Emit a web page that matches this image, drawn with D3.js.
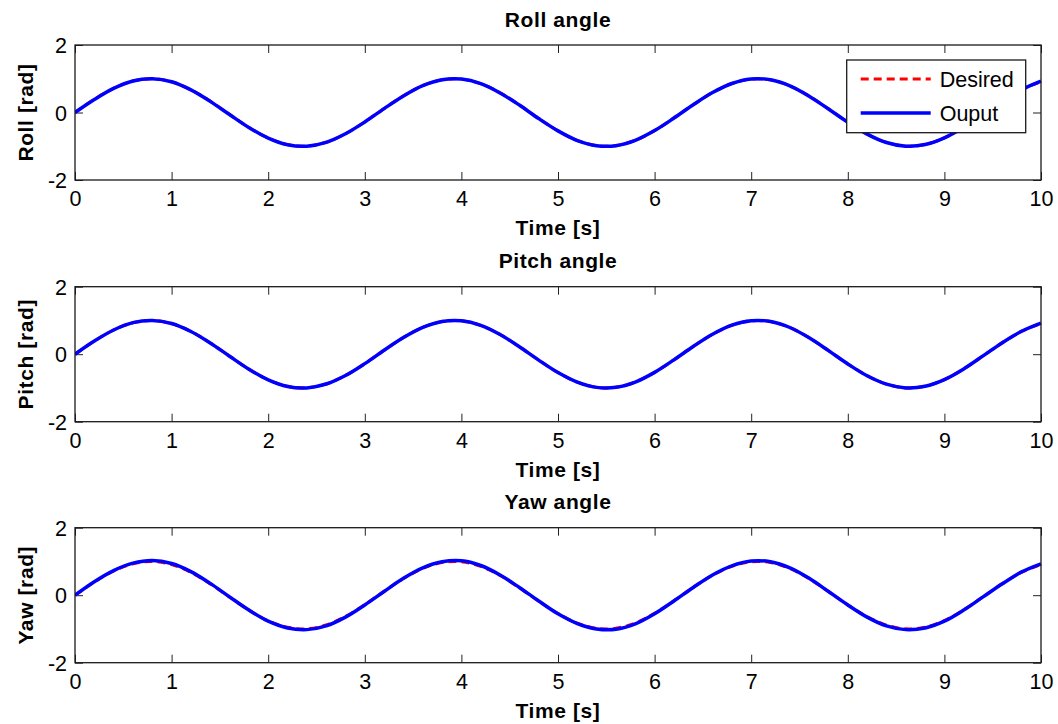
<!DOCTYPE html>
<html><head><meta charset="utf-8">
<script src="https://cdn.jsdelivr.net/npm/d3@7"></script>
<style>
html,body{margin:0;padding:0;background:#fff;}
svg{display:block;font-family:"Liberation Sans",Arial,sans-serif;}
</style></head>
<body>
<svg id="chart" width="1058" height="724"></svg>
<script>
// ---- data ----
const time = [0,0.2,0.4,0.6,0.8,1.0,1.2,1.4,1.6,1.8,2.0,2.2,2.4,2.6,2.8,3.0,3.2,3.4,3.6,3.8,4.0,4.2,4.4,4.6,4.8,5.0,5.2,5.4,5.6,5.8,6.0,6.2,6.4,6.6,6.8,7.0,7.2,7.4,7.6,7.8,8.0,8.2,8.4,8.6,8.8,9.0,9.2,9.4,9.6,9.8,10.0];
const desired = [0,0.389,0.717,0.932,1.0,0.909,0.675,0.335,-0.058,-0.443,-0.757,-0.952,-0.996,-0.883,-0.631,-0.279,0.117,0.494,0.794,0.968,0.989,0.855,0.585,0.223,-0.175,-0.544,-0.828,-0.981,-0.980,-0.824,-0.537,-0.166,0.231,0.592,0.859,0.991,0.967,0.790,0.487,0.108,-0.288,-0.638,-0.887,-0.997,-0.949,-0.751,-0.435,-0.050,0.343,0.681,0.913];
const rollOut = [0,0.385,0.715,0.935,1.0,0.91,0.67,0.33,-0.06,-0.445,-0.76,-0.955,-0.998,-0.885,-0.63,-0.28,0.115,0.49,0.795,0.97,0.99,0.855,0.58,0.22,-0.18,-0.545,-0.83,-0.983,-0.982,-0.825,-0.535,-0.165,0.23,0.59,0.86,0.993,0.968,0.79,0.485,0.105,-0.29,-0.64,-0.89,-0.998,-0.95,-0.75,-0.435,-0.05,0.34,0.68,0.93];
const pitchOut = [0,0.39,0.718,0.935,1.0,0.908,0.672,0.333,-0.06,-0.445,-0.758,-0.955,-0.998,-0.884,-0.632,-0.28,0.116,0.493,0.795,0.97,0.99,0.856,0.584,0.222,-0.176,-0.545,-0.829,-0.983,-0.981,-0.825,-0.538,-0.167,0.23,0.591,0.86,0.992,0.968,0.791,0.486,0.107,-0.289,-0.639,-0.888,-0.998,-0.95,-0.752,-0.436,-0.051,0.342,0.68,0.92];
const yawOut = [0,0.40,0.73,0.95,1.03,0.94,0.70,0.35,-0.05,-0.44,-0.77,-0.97,-1.02,-0.91,-0.65,-0.29,0.11,0.50,0.81,0.99,1.02,0.88,0.60,0.23,-0.17,-0.55,-0.84,-1.00,-1.01,-0.85,-0.55,-0.17,0.23,0.60,0.87,1.01,0.99,0.81,0.50,0.11,-0.29,-0.65,-0.91,-1.02,-0.97,-0.77,-0.44,-0.05,0.34,0.69,0.93];
const titles = ["Roll angle","Pitch angle","Yaw angle"];
const yLabels = ["Roll [rad]","Pitch [rad]","Yaw [rad]"];
const outputs = [rollOut, pitchOut, yawOut];
const xTicks = [0,1,2,3,4,5,6,7,8,9,10];
const yTicks = [-2,0,2];
const legendLabels = ["Desired","Ouput"];
const xLabel = "Time [s]";

// ---- layout ----
const svg = d3.select("#chart");
const left = 75, right = 1041;
const tops = [45, 286.7, 527.7];
const ph = 135;
const tickLen = 8;
const x = d3.scaleLinear().domain([0,10]).range([left,right]);

tops.forEach((top,i)=>{
  const y = d3.scaleLinear().domain([-2,2]).range([top+ph, top]);
  const g = svg.append("g");

  // clip
  const cid = "clip"+i;
  svg.append("clipPath").attr("id",cid).append("rect")
    .attr("x",left).attr("y",top-3).attr("width",right-left+2).attr("height",ph+6);

  // ticks (inward) top/bottom
  const axB = d3.axisBottom(x).tickValues(xTicks).tickSize(tickLen).tickFormat(d=>d);
  const bottomAx = g.append("g").attr("transform",`translate(0,${top+ph})`).call(axB);
  bottomAx.select(".domain").remove();
  bottomAx.selectAll(".tick line").attr("y2",-tickLen).attr("stroke","#222");
  bottomAx.selectAll(".tick text").attr("y",26).attr("dy",0)
    .attr("font-size",21.5).attr("font-family","Liberation Sans, Arial, sans-serif").attr("fill","#000");

  const topAx = g.append("g").attr("transform",`translate(0,${top})`).call(d3.axisTop(x).tickValues(xTicks).tickSize(tickLen).tickFormat(""));
  topAx.select(".domain").remove();
  topAx.selectAll(".tick line").attr("y2",tickLen).attr("stroke","#222");

  const axL = d3.axisLeft(y).tickValues(yTicks).tickSize(tickLen).tickFormat(d=>d);
  const leftAx = g.append("g").attr("transform",`translate(${left},0)`).call(axL);
  leftAx.select(".domain").remove();
  leftAx.selectAll(".tick line").attr("x2",tickLen).attr("stroke","#222");
  leftAx.selectAll(".tick text").attr("x",-8).attr("dy","0.36em")
    .attr("font-size",21.5).attr("font-family","Liberation Sans, Arial, sans-serif").attr("fill","#000");

  const rightAx = g.append("g").attr("transform",`translate(${right},0)`).call(d3.axisRight(y).tickValues(yTicks).tickSize(tickLen).tickFormat(""));
  rightAx.select(".domain").remove();
  rightAx.selectAll(".tick line").attr("x2",-tickLen).attr("stroke","#222");

  // lines
  const pts = (arr)=> time.map((t,k)=>[t,arr[k]]);
  const line = d3.line().x(d=>x(d[0])).y(d=>y(d[1])).curve(d3.curveCatmullRom);
  const lg = svg.append("g").attr("clip-path",`url(#${cid})`);
  lg.append("path").attr("d",line(pts(desired))).attr("fill","none")
    .attr("stroke","#ff0000").attr("stroke-width",3).attr("stroke-dasharray","8,5");
  lg.append("path").attr("d",line(pts(outputs[i]))).attr("fill","none")
    .attr("stroke","#0000ff").attr("stroke-width",3.5).attr("stroke-linejoin","round");

  // box
  svg.append("rect").attr("x",left).attr("y",top).attr("width",right-left).attr("height",ph)
    .attr("fill","none").attr("stroke","#1a1a1a").attr("stroke-width",1.3);

  // title
  svg.append("text").attr("x",(left+right)/2).attr("y",top-18.5).attr("text-anchor","middle")
    .attr("font-size",21).attr("font-weight","bold").attr("letter-spacing",0.6).text(titles[i]);
  // x label
  svg.append("text").attr("x",(left+right)/2).attr("y",top+ph+55).attr("text-anchor","middle")
    .attr("font-size",21).attr("font-weight","bold").attr("letter-spacing",0.6).text(xLabel);
  // y label
  svg.append("text").attr("transform",`translate(33,${top+ph/2}) rotate(-90)`).attr("text-anchor","middle")
    .attr("font-size",21).attr("font-weight","bold").attr("letter-spacing",0.6).text(yLabels[i]);
});

// legend (top panel)
const lgx = 846.7, lgy = 60, lgw = 179, lgh = 72.7;
const leg = svg.append("g");
leg.append("rect").attr("x",lgx).attr("y",lgy).attr("width",lgw).attr("height",lgh)
  .attr("fill","#fff").attr("stroke","#1a1a1a").attr("stroke-width",1.3);
const legStyles = [{c:"#ff0000",w:3,dash:"8,5"},{c:"#0000ff",w:3.5,dash:null}];
legendLabels.forEach((lab,k)=>{
  const yy = lgy + 19 + k*34;
  leg.append("line").attr("x1",lgx+14).attr("x2",lgx+84).attr("y1",yy).attr("y2",yy)
    .attr("stroke",legStyles[k].c).attr("stroke-width",legStyles[k].w)
    .attr("stroke-dasharray",legStyles[k].dash);
  leg.append("text").attr("x",lgx+93).attr("y",yy).attr("dy","0.36em")
    .attr("font-size",21.5).text(lab);
});
</script>
</body></html>
